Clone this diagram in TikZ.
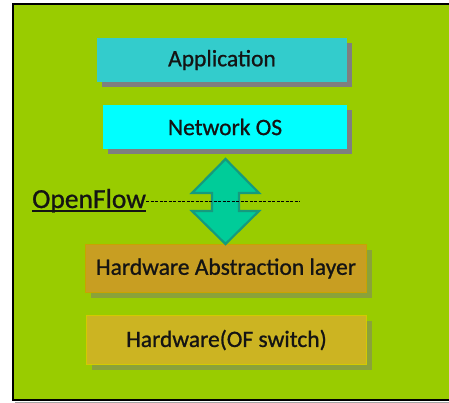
\documentclass[tikz,border=0pt]{standalone}
\usepackage{fontspec}
\setmainfont{Carlito}[FakeBold=0.9]
\usetikzlibrary{shadows}
\definecolor{bggreen}{HTML}{99CC00}
\definecolor{appcol}{HTML}{33CCCC}
\definecolor{noscol}{HTML}{00FFFF}
\definecolor{halcol}{HTML}{C89E22}
\definecolor{halbrd}{HTML}{C8A400}
\definecolor{hwcol}{HTML}{CCB422}
\definecolor{hwbrd}{HTML}{D4CA00}
\definecolor{arrfill}{HTML}{00CC99}
\definecolor{arrbrd}{HTML}{159A7E}
\definecolor{shgray}{HTML}{7F7F7F}
\definecolor{shgreen}{HTML}{8AA23A}
\definecolor{txt}{HTML}{141414}
\tikzset{
  layerbox/.style={minimum height=44pt, inner sep=0pt, text=txt,
    font=\fontsize{23.5}{26}\selectfont},
  grayshadow/.style={drop shadow={shadow xshift=5pt, shadow yshift=-5pt, fill=shgray, opacity=1}},
  greenshadow/.style={drop shadow={shadow xshift=5pt, shadow yshift=-5pt, fill=shgreen, opacity=1}},
}
\begin{document}
\begin{tikzpicture}[x=1pt,y=-1pt]
\useasboundingbox (0,0) rectangle (449,403);
\fill[white] (0,0) rectangle (449,403);
% outer frame
\fill[shgray!70] (15,401.5) rectangle (449,403);
\fill[bggreen] (13,4) rectangle (470,400);
\draw[black, line width=1.5pt] (470,4) -- (13,4) -- (13,400) -- (470,400);
% layers
\node[layerbox, grayshadow, fill=appcol, minimum width=250pt] (app) at (222,60) {Application};
\node[layerbox, grayshadow, fill=noscol, minimum width=244pt] (nos) at (225,127) {Network OS};
\node[layerbox, greenshadow, fill=halcol, draw=halbrd, line width=1.5pt, minimum width=281pt, minimum height=48pt] (hal) at (226,268.5) {Hardware Abstraction layer};
\node[layerbox, greenshadow, fill=hwcol, draw=hwbrd, line width=1.5pt, minimum width=280pt, minimum height=49pt] (hw) at (226.5,340) {Hardware(OF switch)};
% double arrow
\coordinate (top) at (225.5,159);
\coordinate (bot) at (225.5,244);
\fill[arrfill, draw=arrbrd, line width=2.2pt, line join=miter]
  (top) -- (259,193) -- (239,193) -- (239,211) -- (259,211) -- (bot)
  -- (192,211) -- (212,211) -- (212,193) -- (192,193) -- cycle;
% OpenFlow label and dashed line
\node[anchor=base west, inner sep=0pt, text=txt, font=\fontsize{27.5}{30}\selectfont] (of) at (32,208) {OpenFlow};
\draw[txt, line width=1.6pt] ([yshift=-3pt]of.base west) -- ([yshift=-3pt]of.base east);
\coordinate (dashend) at (300,202);
\draw[black, dash pattern=on 3pt off 1.5pt, line width=1pt] (of.east |- dashend) -- (dashend);
\end{tikzpicture}
\end{document}
